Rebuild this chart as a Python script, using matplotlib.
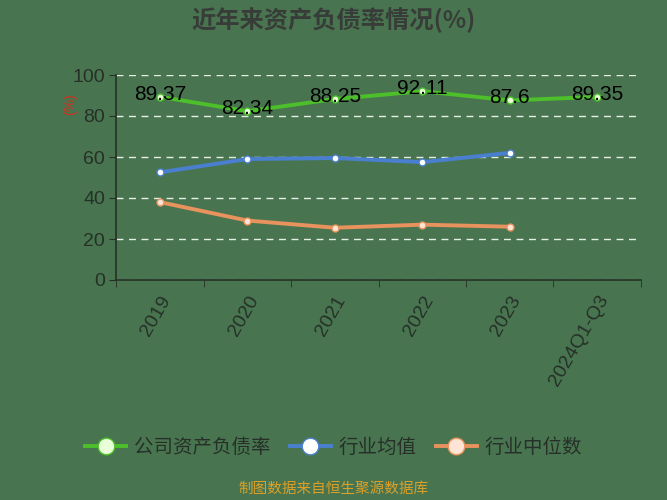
import matplotlib
matplotlib.use("Agg")
import matplotlib.pyplot as plt

plt.rcParams['font.family'] = ['Liberation Sans', 'Noto Sans CJK SC', 'DejaVu Sans']

years = ['2019', '2020', '2021', '2022', '2023', '2024Q1-Q3']
company = [89.37, 82.34, 88.25, 92.11, 87.6, 89.35]
industry_avg = [52.5, 59.0, 59.5, 57.5, 62.0]
industry_median = [38.0, 29.0, 25.5, 27.0, 26.0]

bg = '#487550'
dark = '#263028'
cjk = ['Noto Sans CJK SC', 'DejaVu Sans']

fig = plt.figure(figsize=(6.67, 5), dpi=100, facecolor=bg)
ax = fig.add_axes([0.174, 0.44, 0.787, 0.41], facecolor=bg)

x = list(range(len(years)))
ax.plot(x, company, color='#4cbf2a', lw=2.8, marker='o', ms=5,
        mfc='#e8ffd8', mec='#4cbf2a', mew=1, label='公司资产负债率', zorder=3)
ax.plot(x[:len(industry_avg)], industry_avg, color='#4a7fd0', lw=2.8, marker='o', ms=5,
        mfc='white', mec='#4a7fd0', mew=1, label='行业均值', zorder=3)
ax.plot(x[:len(industry_median)], industry_median, color='#e8925e', lw=2.8, marker='o', ms=5,
        mfc='#fde4d4', mec='#e8925e', mew=1, label='行业中位数', zorder=3)

for xi, v in zip(x, company):
    ax.text(xi, v + 1.2, f'{v:g}', ha='center', va='center', fontsize=15,
            color='black', zorder=4)

ax.set_xlim(-0.5, len(years) - 0.5)
ax.set_ylim(0, 100)
ax.set_yticks([0, 20, 40, 60, 80, 100])
ax.set_xticks(x)
ax.set_xticklabels(years, rotation=60, ha='right', rotation_mode='anchor')
ax.set_xticks([i - 0.5 for i in range(len(years) + 1)], minor=True)
ax.tick_params(axis='x', which='major', length=0, pad=9)
ax.tick_params(axis='x', which='minor', length=5, color=dark)
ax.tick_params(axis='y', length=5, color=dark, pad=3)
ax.tick_params(labelsize=14, labelcolor=dark)
ax.yaxis.grid(True, linestyle=(0, (5, 4)), color='#e6efe6', lw=1)
ax.set_axisbelow(True)
for s in ['top', 'right']:
    ax.spines[s].set_visible(False)
for s in ['left', 'bottom']:
    ax.spines[s].set_color(dark)
    ax.spines[s].set_linewidth(1.2)

ax.set_ylabel('(%)', color='#d03020', fontsize=10)
ax.yaxis.set_label_coords(-0.075, 0.86)

fig.text(0.5, 0.96, '近年来资产负债率情况(%)', ha='center', va='center',
         fontsize=17.5, fontweight='bold', color='#383c38', family=cjk)

leg = fig.legend(loc='center', bbox_to_anchor=(0.5, 0.106), ncol=3, frameon=False,
                 prop={'family': cjk, 'size': 14}, handlelength=2.1,
                 columnspacing=1.0, handletextpad=0.4, markerscale=2.4)
for t in leg.get_texts():
    t.set_color(dark)

fig.text(0.5, 0.022, '制图数据来自恒生聚源数据库', ha='center', va='center',
         fontsize=10.5, color='#dca028', family=cjk)

fig.savefig('out.png', dpi=100, facecolor=bg)
